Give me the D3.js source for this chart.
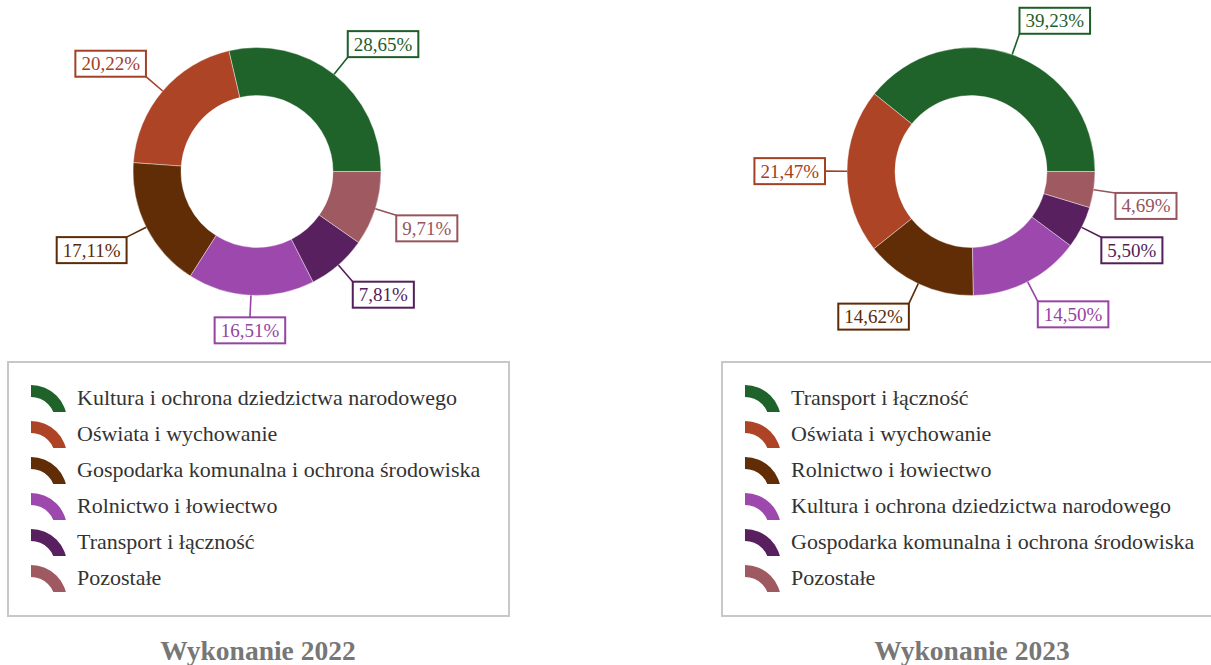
<!DOCTYPE html>
<html>
<head>
<meta charset="utf-8">
<script src="https://cdn.jsdelivr.net/npm/d3@7"></script>
<style>
  html, body { margin: 0; padding: 0; background: #fff; overflow: hidden; }
  svg { display: block; }
</style>
</head>
<body>
<svg id="chart" width="1211" height="665"></svg>
<script>
// Budget structure by section, two years
const categories2022 = [
  "Kultura i ochrona dziedzictwa narodowego",
  "Oświata i wychowanie",
  "Gospodarka komunalna i ochrona środowiska",
  "Rolnictwo i łowiectwo",
  "Transport i łączność",
  "Pozostałe"
];
const values2022 = [28.65, 20.22, 17.11, 16.51, 7.81, 9.71];

const categories2023 = [
  "Transport i łączność",
  "Oświata i wychowanie",
  "Rolnictwo i łowiectwo",
  "Kultura i ochrona dziedzictwa narodowego",
  "Gospodarka komunalna i ochrona środowiska",
  "Pozostałe"
];
const values2023 = [39.23, 21.47, 14.62, 14.50, 5.50, 4.69];

const sliceColors = ["#1f632a", "#ad4426", "#612d07", "#9d48ac", "#58205f", "#9e5961"];
const titles = ["Wykonanie 2022", "Wykonanie 2023"];

const panels = [
  { categories: categories2022, values: values2022, title: titles[0] },
  { categories: categories2023, values: values2023, title: titles[1] }
];

const svg = d3.select("#chart");
const serif = "'Liberation Serif', 'Times New Roman', serif";

const panelStep = 714;
const cx = 257, cy = 171.5;
const outerR = 124, innerR = 76, labelR = 146;

const fmt = v => v.toFixed(2).replace(".", ",") + "%";

const pie = d3.pie()
  .sort(null)
  .value(d => d.value)
  .startAngle(Math.PI / 2)
  .endAngle(Math.PI / 2 - 2 * Math.PI);

const arc = d3.arc().innerRadius(innerR).outerRadius(outerR);

const color = d3.scaleOrdinal().domain(d3.range(6)).range(sliceColors);

// legend swatch: a quarter ring, trimmed at the bottom
const swatchArc = d3.arc()
  .innerRadius(24).outerRadius(36)
  .startAngle(0).endAngle(Math.PI / 2);

const defs = svg.append("defs");
defs.append("clipPath").attr("id", "swatchClip")
  .append("rect").attr("x", -1).attr("y", -40).attr("width", 40).attr("height", 31);

panels.forEach((p, pi) => {
  const g = svg.append("g").attr("transform", `translate(${pi * panelStep},0)`);
  const data = p.values.map((v, i) => ({ value: v, idx: i, name: p.categories[i] }));
  const arcs = pie(data);

  const donut = g.append("g").attr("transform", `translate(${cx},${cy})`);

  donut.selectAll("path.slice")
    .data(arcs)
    .join("path")
    .attr("class", "slice")
    .attr("d", arc)
    .attr("fill", d => color(d.data.idx))
    .attr("stroke", "rgba(255,255,255,0.4)")
    .attr("stroke-width", 1);

  // value labels with leader lines
  arcs.forEach(d => {
    const a = (d.startAngle + d.endAngle) / 2;
    const sx = Math.sin(a), sy = -Math.cos(a);
    const c = d3.color(color(d.data.idx)).darker(0.15).formatHex();
    const x0 = sx * outerR, y0 = sy * outerR;
    const ax = sx * labelR, ay = sy * labelR;

    donut.append("line")
      .attr("x1", x0).attr("y1", y0)
      .attr("x2", ax).attr("y2", ay)
      .attr("stroke", c).attr("stroke-width", 1.6);

    const lg = donut.append("g");
    const rect = lg.append("rect");
    const txt = lg.append("text")
      .text(fmt(d.data.value))
      .attr("font-family", serif)
      .attr("font-size", 19)
      .attr("fill", c);
    const tw = txt.node().getComputedTextLength();
    const w = tw + 12, h = 26;

    let left;
    if (sx > 0.1) left = ax;
    else if (sx < -0.1) left = ax - w;
    else left = ax - w / 2;
    let top;
    if (sy < -0.1) top = ay - h;
    else if (sy > 0.1) top = ay;
    else top = ay - h / 2;

    rect.attr("x", left).attr("y", top)
      .attr("width", w).attr("height", h)
      .attr("fill", "#fff")
      .attr("stroke", c).attr("stroke-width", 2);
    txt.attr("x", left + 6).attr("y", top + h / 2 + 6.5);
  });

  // legend
  const legend = g.append("g");
  legend.append("rect")
    .attr("x", 8).attr("y", 362)
    .attr("width", 501).attr("height", 254)
    .attr("fill", "none")
    .attr("stroke", "#c8c8c8")
    .attr("stroke-width", 2);

  const rows = legend.selectAll("g.row")
    .data(data)
    .join("g")
    .attr("class", "row")
    .attr("transform", (d, i) => `translate(0,${405 + i * 36})`);

  rows.append("g")
    .attr("transform", "translate(31,16)")
    .append("path")
    .attr("d", swatchArc())
    .attr("clip-path", "url(#swatchClip)")
    .attr("fill", d => color(d.idx));

  rows.append("text")
    .attr("x", 77).attr("y", 0)
    .attr("font-family", serif)
    .attr("font-size", 22)
    .attr("fill", "#333")
    .text(d => d.name);

  // panel title
  g.append("text")
    .attr("x", 258).attr("y", 660)
    .attr("text-anchor", "middle")
    .attr("font-family", serif)
    .attr("font-size", 27.5)
    .attr("font-weight", "bold")
    .attr("fill", "#777")
    .text(p.title);
});
</script>
</body>
</html>
